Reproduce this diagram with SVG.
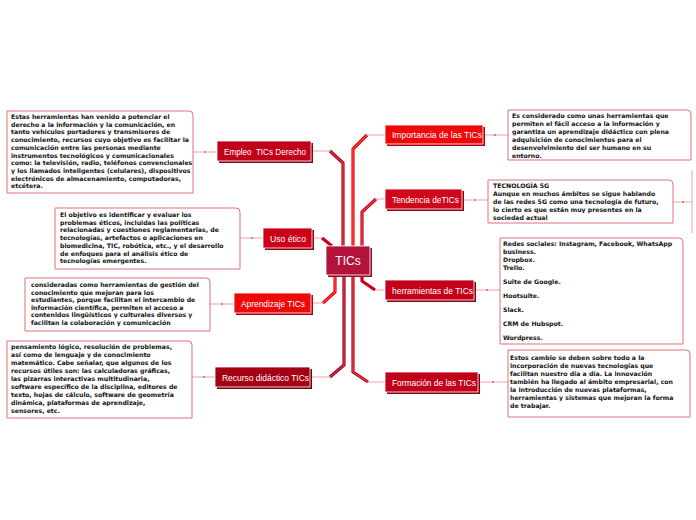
<svg xmlns="http://www.w3.org/2000/svg" width="696" height="520" viewBox="0 0 696 520">
<style>
.bg{fill:#ffffff}
.box{fill:#ffffff;stroke:#e0707a;stroke-width:1}
.bt{font-family:"DejaVu Sans",Verdana,sans-serif;font-weight:bold;font-size:6.2px;fill:#111111}
.nt{font-family:"Liberation Sans",Arial,sans-serif;font-size:9.5px;fill:#ffffff;text-anchor:middle}
.ct{font-family:"Liberation Sans",Arial,sans-serif;font-size:12px;fill:#ffffff;text-anchor:middle}
.nr{stroke:#ffffff;stroke-width:0.8}
.thin{fill:none;stroke:#f0a0a4;stroke-width:1}
.dot{fill:#b02030}
.tk{fill:none;stroke-width:3.2;stroke-linejoin:round}
.tki{fill:none;stroke-width:1;stroke-linejoin:round;opacity:0.55;stroke:#ff9090}
</style>
<rect class="bg" x="0" y="0" width="696" height="520"/>

<g id="connectors">
  <path class="thin" d="M311,151 H330"/>
  <path class="thin" d="M312,238 H322"/>
  <path class="thin" d="M311,303 H323"/>
  <path class="thin" d="M310,377 H330"/>
  <path class="thin" d="M385,135 H367"/>
  <path class="thin" d="M385,199 H376"/>
  <path class="thin" d="M385,290 H375"/>
  <path class="thin" d="M385,382 H368"/>
  <path class="tk" stroke="#b8001a" d="M330,151 L343,163 V247"/>
  <path class="tki" d="M330,151 L343,163 V247"/>
  <path class="tk" stroke="#c8001a" stroke-width="2" d="M322,238 L332,246"/>
  <path class="tk" stroke="#ee0a0a" d="M323,303 L335,292 V274"/>
  <path class="tki" d="M323,303 L335,292 V274"/>
  <path class="tk" stroke="#a5001a" d="M330,377 L344,365 V274"/>
  <path class="tki" d="M330,377 L344,365 V274"/>
  <path class="tk" stroke="#ee0a0a" d="M367,135 L353,149 V247"/>
  <path class="tki" d="M367,135 L353,149 V247"/>
  <path class="tk" stroke="#d0061a" d="M376,199 L362,212 V247"/>
  <path class="tki" d="M376,199 L362,212 V247"/>
  <path class="tk" stroke="#c4001a" stroke-width="2.4" d="M375,290 L362,281 V274"/>
  <path class="tk" stroke="#c0001a" d="M368,382 L353,372 V274"/>
  <path class="tki" d="M368,382 L353,372 V274"/>
  <path class="thin" d="M193,152 H217"/><circle class="dot" cx="205" cy="152" r="0.8"/>
  <path class="thin" d="M240,238 H263"/><circle class="dot" cx="252" cy="238" r="0.8"/>
  <path class="thin" d="M210,304 H234"/><circle class="dot" cx="222" cy="304" r="0.8"/>
  <path class="thin" d="M192,377 H215"/><circle class="dot" cx="204" cy="377" r="0.8"/>
  <path class="thin" d="M483,135 H508"/><circle class="dot" cx="495" cy="135" r="0.8"/>
  <path class="thin" d="M462,200 H488"/><circle class="dot" cx="475" cy="200" r="0.8"/>
  <path class="thin" d="M673,202 H692"/><circle class="dot" cx="683" cy="202" r="0.8"/>
  <path class="thin" d="M692,170 V233"/>
  <path class="thin" d="M474,290 H500"/><circle class="dot" cx="487" cy="290" r="0.8"/>
  <path class="thin" d="M478,382 H508"/><circle class="dot" cx="493" cy="382" r="0.8"/>
</g>

<g id="center">
  <rect x="328" y="248" width="44" height="29" fill="#8a0c28"/>
  <rect class="nr" x="326" y="246" width="44" height="29" fill="#b3123a"/>
  <text class="ct" x="348" y="265">TICs</text>
</g>

<g id="n-empleo">
  <rect x="219" y="143" width="94" height="20" fill="#8c0012"/>
  <rect class="nr" x="217" y="141" width="94" height="20" fill="#c2001a"/>
  <text class="nt" x="265" y="154.5" textLength="82" lengthAdjust="spacingAndGlyphs" xml:space="preserve">Empleo  TICs Derecho</text>
</g>
<g id="n-uso">
  <rect x="265" y="230" width="49" height="20" fill="#900012"/>
  <rect class="nr" x="263" y="228" width="49" height="20" fill="#cc0018"/>
  <text class="nt" x="288" y="241.5" textLength="36" lengthAdjust="spacingAndGlyphs">Uso ético</text>
</g>
<g id="n-aprendizaje">
  <rect x="236" y="295" width="77" height="20" fill="#b00010"/>
  <rect class="nr" x="234" y="293" width="77" height="20" fill="#ee0808"/>
  <text class="nt" x="273" y="306.5" textLength="64" lengthAdjust="spacingAndGlyphs">Aprendizaje TICs</text>
</g>
<g id="n-recurso">
  <rect x="217" y="369" width="95" height="20" fill="#700010"/>
  <rect class="nr" x="215" y="367" width="95" height="20" fill="#a50014"/>
  <text class="nt" x="265.5" y="380.5" textLength="87" lengthAdjust="spacingAndGlyphs">Recurso didáctico TICs</text>
</g>
<g id="n-importancia">
  <rect x="387" y="127" width="98" height="19" fill="#b00010"/>
  <rect class="nr" x="385" y="125" width="98" height="19" fill="#ee0808"/>
  <text class="nt" x="437" y="138" textLength="90" lengthAdjust="spacingAndGlyphs">Importancia de las TICs</text>
</g>
<g id="n-tendencia">
  <rect x="387" y="191" width="77" height="20" fill="#940012"/>
  <rect class="nr" x="385" y="189" width="77" height="20" fill="#d0061a"/>
  <text class="nt" x="425.5" y="202.5" textLength="67" lengthAdjust="spacingAndGlyphs">Tendencia deTICs</text>
</g>
<g id="n-herramientas">
  <rect x="387" y="282" width="89" height="20" fill="#8c0012"/>
  <rect class="nr" x="385" y="280" width="89" height="20" fill="#c4001a"/>
  <text class="nt" x="432.5" y="293.5" textLength="81" lengthAdjust="spacingAndGlyphs">herramientas de TICs</text>
</g>
<g id="n-formacion">
  <rect x="387" y="374" width="93" height="20" fill="#8a0012"/>
  <rect class="nr" x="385" y="372" width="93" height="20" fill="#c0001a"/>
  <text class="nt" x="434" y="385.5" textLength="84" lengthAdjust="spacingAndGlyphs">Formación de las TICs</text>
</g>

<g id="t-empleo">
  <path class="box" d="M7,111 H189 Q193,111 193,115 V193 H7 Z"/>
  <text class="bt">
    <tspan x="11" y="119">Estas herramientas han venido a potenciar el</tspan>
    <tspan x="11" y="126.7">derecho a la información y la comunicación, en</tspan>
    <tspan x="11" y="134.4">tanto vehículos portadores y transmisores de</tspan>
    <tspan x="11" y="142.1">conocimiento, recursos cuyo objetivo es facilitar la</tspan>
    <tspan x="11" y="149.8">comunicación entre las personas mediante</tspan>
    <tspan x="11" y="157.5">instrumentos tecnológicos y comunicacionales</tspan>
    <tspan x="11" y="165.2">como: la televisión, radio, teléfonos convencionales</tspan>
    <tspan x="11" y="172.9">y los llamados inteligentes (celulares), dispositivos</tspan>
    <tspan x="11" y="180.6">electrónicos de almacenamiento, computadoras,</tspan>
    <tspan x="11" y="188.3">etcétera.</tspan>
  </text>
</g>
<g id="t-uso">
  <path class="box" d="M55,208 H236 Q240,208 240,212 V269 H55 Z"/>
  <text class="bt">
    <tspan x="60" y="217">El objetivo es identificar y evaluar los</tspan>
    <tspan x="60" y="224.7">problemas éticos, incluidas las políticas</tspan>
    <tspan x="60" y="232.4">relacionadas y cuestiones reglamentarias, de</tspan>
    <tspan x="60" y="240.1">tecnologías, artefactos o aplicaciones en</tspan>
    <tspan x="60" y="247.8">biomedicina, TIC, robótica, etc., y el desarrollo</tspan>
    <tspan x="60" y="255.5">de enfoques para el análisis ético de</tspan>
    <tspan x="60" y="263.2">tecnologías emergentes.</tspan>
  </text>
</g>
<g id="t-aprendizaje">
  <path class="box" d="M25,278 H206 Q210,278 210,282 V331 H25 Z"/>
  <text class="bt">
    <tspan x="31" y="287">consideradas como herramientas de gestión del</tspan>
    <tspan x="31" y="294.6">conocimiento que mejoran para los</tspan>
    <tspan x="31" y="302.2">estudiantes, porque facilitan el intercambio de</tspan>
    <tspan x="31" y="309.8">información científica, permiten el acceso a</tspan>
    <tspan x="31" y="317.4">contenidos lingüísticos y culturales diversos y</tspan>
    <tspan x="31" y="325">facilitan la colaboración y comunicación</tspan>
  </text>
</g>
<g id="t-recurso">
  <path class="box" d="M7,341 H188 Q192,341 192,345 V418 H7 Z"/>
  <text class="bt">
    <tspan x="11" y="348.5">pensamiento lógico, resolución de problemas,</tspan>
    <tspan x="11" y="356.5">así como de lenguaje y de conocimiento</tspan>
    <tspan x="11" y="364.5">matemático. Cabe señalar, que algunos de los</tspan>
    <tspan x="11" y="372.5">recursos útiles son: las calculadoras gráficas,</tspan>
    <tspan x="11" y="380.5">las pizarras interactivas multitudinaria,</tspan>
    <tspan x="11" y="388.5">software específico de la disciplina, editores de</tspan>
    <tspan x="11" y="396.5">texto, hojas de cálculo, software de geometría</tspan>
    <tspan x="11" y="404.5">dinámica, plataformas de aprendizaje,</tspan>
    <tspan x="11" y="412.5">sensores, etc.</tspan>
  </text>
</g>
<g id="t-importancia">
  <path class="box" d="M508,110 H687 Q691,110 691,114 V160 H508 Z"/>
  <text class="bt">
    <tspan x="512" y="117.5">Es considerado como unas herramientas que</tspan>
    <tspan x="512" y="125.5">permiten el fácil acceso a la información y</tspan>
    <tspan x="512" y="133.5">garantiza un aprendizaje didáctico con plena</tspan>
    <tspan x="512" y="141.5">adquisición de conocimientos para el</tspan>
    <tspan x="512" y="149.5">desenvolvimiento del ser humano en su</tspan>
    <tspan x="512" y="157.5">entorno.</tspan>
  </text>
</g>
<g id="t-tendencia">
  <path class="box" d="M488,180 H669 Q673,180 673,184 V223 H488 Z"/>
  <text class="bt">
    <tspan x="493" y="187.5">TECNOLOGÍA 5G</tspan>
    <tspan x="493" y="195.5">Aunque en muchos ámbitos se sigue hablando</tspan>
    <tspan x="493" y="203.5">de las redes 5G como una tecnología de futuro,</tspan>
    <tspan x="493" y="211.5">lo cierto es que están muy presentes en la</tspan>
    <tspan x="493" y="219.5">sociedad actual</tspan>
  </text>
</g>
<g id="t-herramientas">
  <path class="box" d="M500,238 H679 Q683,238 683,242 V344 H500 Z"/>
  <text class="bt">
    <tspan x="503" y="246">Redes sociales: Instagram, Facebook, WhatsApp</tspan>
    <tspan x="503" y="254">business.</tspan>
    <tspan x="503" y="262">Dropbox.</tspan>
    <tspan x="503" y="269.5">Trello.</tspan>
    <tspan x="503" y="283.5">Suite de Google.</tspan>
    <tspan x="503" y="297.5">Hootsuite.</tspan>
    <tspan x="503" y="311.5">Slack.</tspan>
    <tspan x="503" y="325.5">CRM de Hubspot.</tspan>
    <tspan x="503" y="339.5">Wordpress.</tspan>
  </text>
</g>
<g id="t-formacion">
  <path class="box" d="M508,350 H686 Q690,350 690,354 V417 H508 Z"/>
  <text class="bt">
    <tspan x="510" y="359.5">Estos cambio se deben sobre todo a la</tspan>
    <tspan x="510" y="367.6">incorporación de nuevas tecnologías que</tspan>
    <tspan x="510" y="375.7">facilitan nuestro día a día. La innovación</tspan>
    <tspan x="510" y="383.8">también ha llegado al ámbito empresarial, con</tspan>
    <tspan x="510" y="391.9">la introducción de nuevas plataformas,</tspan>
    <tspan x="510" y="400">herramientas y sistemas que mejoran la forma</tspan>
    <tspan x="510" y="408.1">de trabajar.</tspan>
  </text>
</g>
</svg>
